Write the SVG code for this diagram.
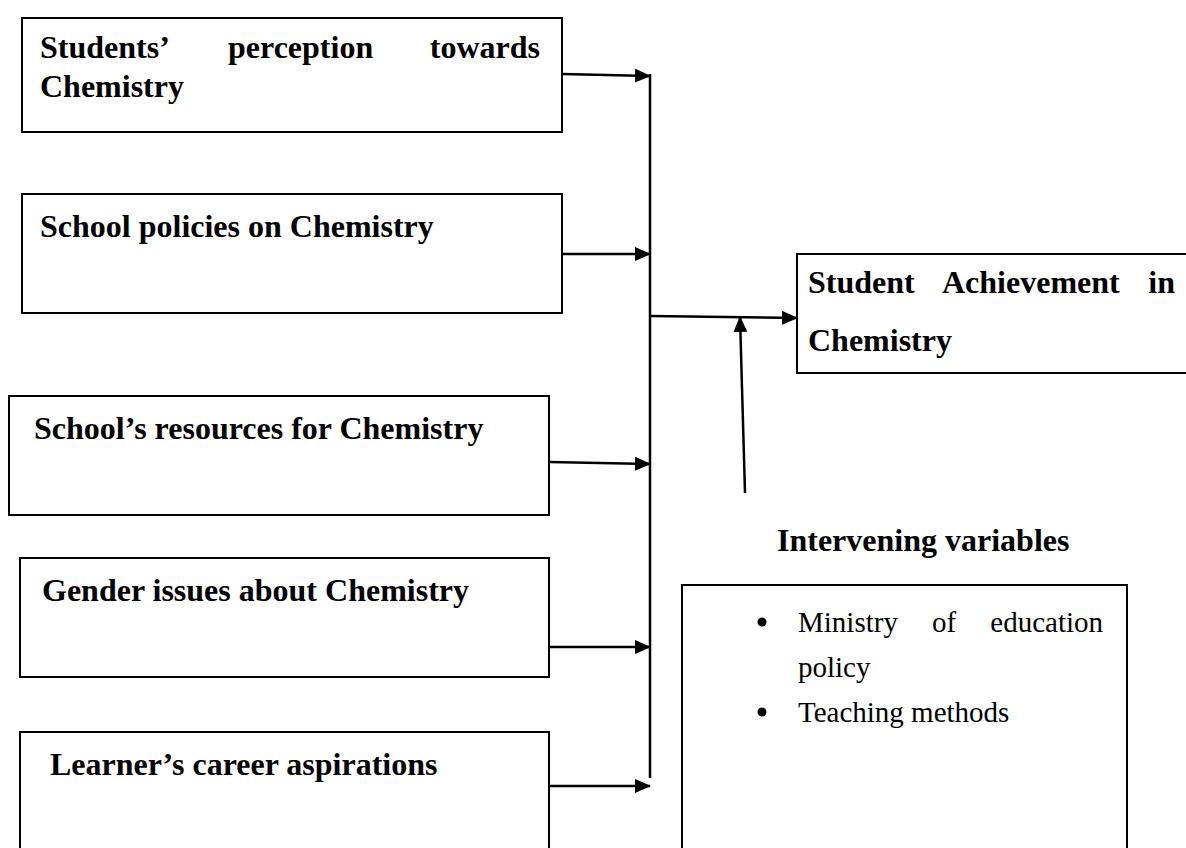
<svg xmlns="http://www.w3.org/2000/svg" width="1186" height="848" viewBox="0 0 1186 848">
<defs>
<style>
.box{fill:#fff;stroke:#000;stroke-width:2}
.t{font-family:"Liberation Serif","Times New Roman",serif;font-weight:bold;font-size:32px;fill:#000}
.r{font-family:"Liberation Serif","Times New Roman",serif;font-size:29px;fill:#000}
.c{stroke:#000;stroke-width:2.5;fill:none}
</style>
<marker id="ah" markerWidth="16" markerHeight="14" refX="15" refY="7" orient="auto" markerUnits="userSpaceOnUse">
<path d="M0,0 L16,7 L0,14 Z" fill="#000"/>
</marker>
</defs>
<rect width="1186" height="848" fill="#fff"/>
<g id="n1">
<rect class="box" x="22" y="18" width="540" height="114"/>
<text class="t" y="58"><tspan x="40">Students’</tspan><tspan x="228">perception</tspan><tspan x="540" text-anchor="end">towards</tspan></text>
<text class="t" x="40" y="97">Chemistry</text>
</g>
<g id="n2">
<rect class="box" x="22" y="194" width="540" height="119"/>
<text class="t" x="40" y="237">School policies on Chemistry</text>
</g>
<g id="n3">
<rect class="box" x="9" y="396" width="540" height="119"/>
<text class="t" x="34" y="439">School’s resources for Chemistry</text>
</g>
<g id="n4">
<rect class="box" x="20" y="558" width="529" height="119"/>
<text class="t" x="42" y="601">Gender issues about Chemistry</text>
</g>
<g id="n5">
<rect class="box" x="20" y="732" width="529" height="130"/>
<text class="t" x="50" y="775">Learner’s career aspirations</text>
</g>
<g id="target">
<rect class="box" x="797" y="254" width="400" height="119"/>
<text class="t" y="293"><tspan x="808">Student</tspan><tspan x="942">Achievement</tspan><tspan x="1175" text-anchor="end">in</tspan></text>
<text class="t" x="808" y="351">Chemistry</text>
</g>
<g id="intervening">
<text class="t" x="777" y="551">Intervening variables</text>
<rect class="box" x="682" y="585" width="445" height="280"/>
<circle cx="762" cy="622" r="4.5" fill="#000"/>
<circle cx="762" cy="712" r="4.5" fill="#000"/>
<text class="r" y="632"><tspan x="798">Ministry</tspan><tspan x="932">of</tspan><tspan x="1103" text-anchor="end">education</tspan></text>
<text class="r" x="798" y="677">policy</text>
<text class="r" x="798" y="722">Teaching methods</text>
</g>
<g id="connectors">
<line class="c" x1="650" y1="74" x2="650" y2="778"/>
<line class="c" x1="562" y1="74" x2="650" y2="76" marker-end="url(#ah)"/>
<line class="c" x1="562" y1="254" x2="650" y2="254" marker-end="url(#ah)"/>
<line class="c" x1="549" y1="462" x2="650" y2="464" marker-end="url(#ah)"/>
<line class="c" x1="549" y1="647" x2="650" y2="647" marker-end="url(#ah)"/>
<line class="c" x1="549" y1="786" x2="650" y2="786" marker-end="url(#ah)"/>
<line class="c" x1="650" y1="316" x2="797" y2="318" marker-end="url(#ah)"/>
<line class="c" x1="745" y1="493" x2="740" y2="317" marker-end="url(#ah)"/>
</g>
</svg>
